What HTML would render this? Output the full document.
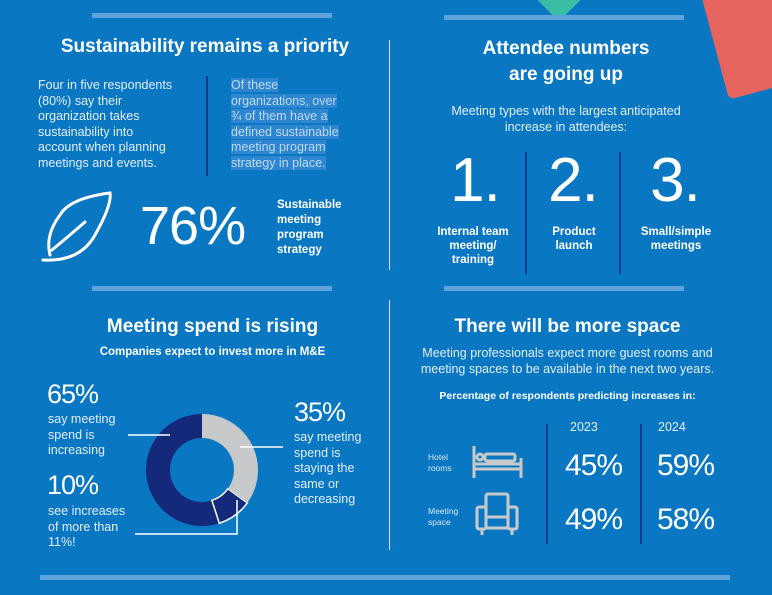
<!DOCTYPE html>
<html><head><meta charset="utf-8"><style>
body{margin:0;width:772px;height:595px;overflow:hidden;background:#0A77C2;font-family:"Liberation Sans",sans-serif;color:#fff;position:relative}
.a{position:absolute}
.bar{position:absolute;height:5px;background:#5FA3DA}
.vl{position:absolute;width:2px;background:#1B3A8C}
h2{margin:0;font-size:19px;font-weight:bold;position:absolute;text-align:center}
.p{font-size:12.5px;line-height:15.5px;color:#E3EEF8}
.big{font-family:"Liberation Sans",sans-serif;font-weight:normal;letter-spacing:-1px}
.sb{font-size:11.5px;font-weight:bold;line-height:14px;text-align:center}
</style></head><body>
<div class="a" style="left:541px;top:-22px;width:36px;height:36px;background:#3BBDA5;transform:rotate(45deg);border-radius:4px"></div>
<div class="a" style="left:712px;top:-30px;width:90px;height:120px;background:#E8645F;transform:rotate(-15deg);border-radius:6px"></div>

<div class="bar" style="left:92px;top:13px;width:240px"></div>
<div class="bar" style="left:444px;top:15px;width:240px"></div>
<div class="bar" style="left:92px;top:286px;width:240px"></div>
<div class="bar" style="left:444px;top:286px;width:240px"></div>
<div class="bar" style="left:40px;top:575px;width:690px"></div>
<div class="vl" style="left:389px;top:40px;height:230px;background:#D8E6F3;width:1px"></div>
<div class="vl" style="left:389px;top:300px;height:250px;background:#D8E6F3;width:1px"></div>

<h2 style="left:20px;top:36px;width:370px">Sustainability remains a priority</h2>
<div class="a p" style="left:38px;top:78px;width:140px">Four in five respondents (80%) say their organization takes sustainability into account when planning meetings and events.</div>
<div class="vl" style="left:206px;top:76px;height:100px"></div>
<div class="a p" style="left:231px;top:78px;width:115px;color:#BFD9F0"><span style="background:#2E86D0">Of these organizations, over ¾ of them have a defined sustainable meeting program strategy in place.</span></div>
<svg class="a" style="left:40px;top:190px" width="80" height="75"><path d="M3,70 Q40,72 55,45 Q72,15 70,3 Q30,8 20,25 Q5,45 10,65 M12,60 Q30,45 45,32" fill="none" stroke="#fff" stroke-width="3" stroke-linecap="round"/></svg>
<div class="a big" style="left:140px;top:195px;font-size:54px">76%</div>
<div class="a" style="left:277px;top:198px;font-size:11.5px;font-weight:bold;line-height:15px">Sustainable<br>meeting<br>program<br>strategy</div>

<h2 style="left:400px;top:36px;width:332px;line-height:26px">Attendee numbers<br>are going up</h2>
<div class="a p" style="left:430px;top:104px;width:272px;text-align:center">Meeting types with the largest anticipated increase in attendees:</div>
<div class="vl" style="left:525px;top:152px;height:122px"></div>
<div class="vl" style="left:619px;top:152px;height:122px"></div>
<div class="a big" style="left:430px;top:145px;width:90px;text-align:center;font-size:62px">1.</div>
<div class="a big" style="left:528px;top:145px;width:90px;text-align:center;font-size:62px">2.</div>
<div class="a big" style="left:630px;top:145px;width:90px;text-align:center;font-size:62px">3.</div>
<div class="a sb" style="left:433px;top:225px;width:80px">Internal team meeting/ training</div>
<div class="a sb" style="left:541px;top:225px;width:66px">Product launch</div>
<div class="a sb" style="left:633px;top:225px;width:86px">Small/simple meetings</div>

<h2 style="left:20px;top:316px;width:385px">Meeting spend is rising</h2>
<div class="a" style="left:20px;top:346px;width:385px;text-align:center;font-size:11.5px;font-weight:bold">Companies expect to invest more in M&amp;E</div>
<div class="a big" style="left:47px;top:379px;font-size:27px">65%</div>
<div class="a p" style="left:48px;top:412px;width:80px">say meeting spend is increasing</div>
<div class="a big" style="left:47px;top:470px;font-size:27px">10%</div>
<div class="a p" style="left:48px;top:504px;width:85px">see increases of more than 11%!</div>
<div class="a big" style="left:294px;top:397px;font-size:27px">35%</div>
<div class="a p" style="left:294px;top:430px;width:75px">say meeting spend is staying the same or decreasing</div>
<svg class="a" id="donut" style="left:0;top:0" width="772" height="595">
<line x1="128" y1="435" x2="170" y2="435" stroke="#fff" stroke-width="1.5"/>
<line x1="240" y1="447" x2="283" y2="447" stroke="#fff" stroke-width="1.5"/>
<polyline points="135,534 237,534 237,500" fill="none" stroke="#fff" stroke-width="1.5"/>
</svg>

<h2 style="left:395px;top:316px;width:345px">There will be more space</h2>
<div class="a p" style="left:405px;top:346px;width:325px;text-align:center">Meeting professionals expect more guest rooms and meeting spaces to be available in the next two years.</div>
<div class="a" style="left:405px;top:390px;width:325px;text-align:center;font-size:10.5px;font-weight:bold">Percentage of respondents predicting increases in:</div>
<div class="vl" style="left:546px;top:424px;height:120px"></div>
<div class="vl" style="left:640px;top:424px;height:120px"></div>
<div class="a p" style="left:570px;top:420px">2023</div>
<div class="a p" style="left:658px;top:420px">2024</div>
<div class="a" style="left:428px;top:452px;font-size:8.5px;line-height:11px;color:#D8E6F3">Hotel<br>rooms</div>
<div class="a" style="left:428px;top:506px;font-size:8.5px;line-height:11px;color:#D8E6F3">Meeting<br>space</div>
<svg class="a" style="left:470px;top:444px" width="55" height="36"><g fill="none" stroke="#C8C9CB" stroke-width="3"><path d="M4,2 V34 M51,14 V34 M4,25 H51 M4,20 H51"/><circle cx="10" cy="13" r="3"/><rect x="15" y="10" width="30" height="7" rx="2"/></g></svg>
<svg class="a" style="left:474px;top:491px" width="48" height="46"><g fill="none" stroke="#C8C9CB" stroke-width="3"><rect x="12" y="3" width="22" height="34" rx="2"/><rect x="3" y="16" width="9" height="22" rx="2"/><rect x="34" y="16" width="9" height="22" rx="2"/><path d="M12,26 H34 M8,38 V44 M38,38 V44"/></g></svg>
<div class="a big" style="left:565px;top:449px;font-size:30px">45%</div>
<div class="a big" style="left:657px;top:449px;font-size:30px">59%</div>
<div class="a big" style="left:565px;top:503px;font-size:30px">49%</div>
<div class="a big" style="left:657px;top:503px;font-size:30px">58%</div>

<script>
const segLabels=["staying-same","high-increase","other-increase"];
const segValues=[35,10,55];
const segColors=["#C8C9CB","#14297A","#14297A"];
const svg=document.getElementById('donut');
const cx=202,cy=470,R=56,r=32;
function pt(a,rad){return [cx+rad*Math.sin(a),cy-rad*Math.cos(a)];}
const tot=segValues.reduce((a,b)=>a+b,0);
let acc=0;
segValues.forEach((v,i)=>{
 const a0=acc/tot*2*Math.PI;acc+=v;const a1=acc/tot*2*Math.PI;
 const lg=(a1-a0)>Math.PI?1:0;
 const p1=pt(a0,R),p2=pt(a1,R),p3=pt(a1,r),p4=pt(a0,r);
 const p=document.createElementNS('http://www.w3.org/2000/svg','path');
 p.setAttribute('d',`M${p1} A${R},${R} 0 ${lg} 1 ${p2} L${p3} A${r},${r} 0 ${lg} 0 ${p4}Z`);
 p.setAttribute('fill',segColors[i]);
 if(i===1){p.setAttribute('stroke','#fff');p.setAttribute('stroke-width','1.5');}
 
 
 svg.insertBefore(p,svg.firstChild);
});
</script>
</body></html>
